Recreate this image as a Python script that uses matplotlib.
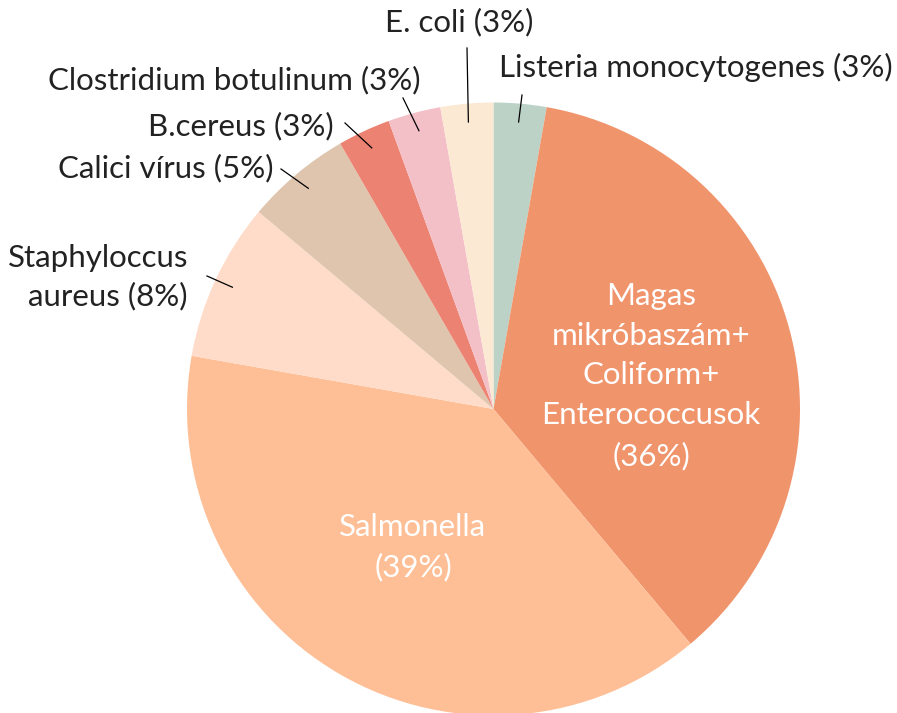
import numpy as np
import matplotlib
matplotlib.use("Agg")
import matplotlib.pyplot as plt

labels = ["Listeria monocytogenes", "Magas\nmikróbaszám+\nColiform+\nEnterococcusok",
          "Salmonella", "Staphyloccus\naureus", "Calici vírus", "B.cereus",
          "Clostridium botulinum", "E. coli"]
counts = [1, 13, 14, 3, 2, 1, 1, 1]
pct_labels = ["3%", "36%", "39%", "8%", "5%", "3%", "3%", "3%"]
colors = ["#BCD2C7", "#F0946C", "#FEBF96", "#FEDCC9", "#DFC5AE", "#EC8271", "#F4C0C8", "#FCE9D3"]

W, H = 897, 713
fig = plt.figure(figsize=(W / 100, H / 100), dpi=100)
ax = fig.add_axes([0, 0, 1, 1])

cx, cy, R = 493.5, H - 409, 306.5
wedges, _ = ax.pie(counts, colors=colors, startangle=90, counterclock=False,
                   radius=R, center=(cx, cy), wedgeprops=dict(linewidth=0),
                   frame=True)
ax.set_xlim(0, W)
ax.set_ylim(0, H)
ax.set_aspect("equal")
ax.axis("off")

font = dict(family=["Lato", "DejaVu Sans"], fontweight="normal")
fs = 22.5

# outside labels: (text x, text y (image coords), ha, leader outer end (image coords))
outside = {
    0: (696, 67, "center", (522, 95)),
    7: (459, 22, "center", (467, 48)),
    6: (234, 80, "center", (403, 98)),
    5: (334, 126, "right", (345, 123)),
    4: (273, 168, "right", (281, 169)),
    3: (188, 277, "right", (207, 276)),
}
for i, (tx, ty, ha, (ox, oy)) in outside.items():
    w = wedges[i]
    mid = np.deg2rad((w.theta1 + w.theta2) / 2)
    ix = cx + 0.94 * R * np.cos(mid)
    iy = cy + 0.94 * R * np.sin(mid)
    ax.plot([ix, ox], [iy, H - oy], color="black", lw=0.9)
    ax.text(tx, H - ty, f"{labels[i]} ({pct_labels[i]})", ha=ha, va="center",
            multialignment=ha, fontsize=fs, color="#222222", linespacing=1.42, **font)

# inside labels
ax.text(651, H - 376, f"{labels[1]}\n({pct_labels[1]})", ha="center", va="center",
        fontsize=fs, color="white", linespacing=1.52, **font)
ax.text(413, H - 547, f"{labels[2]}\n({pct_labels[2]})", ha="center", va="center",
        fontsize=fs, color="white", linespacing=1.5, **font)

fig.savefig("out.png", dpi=100)
